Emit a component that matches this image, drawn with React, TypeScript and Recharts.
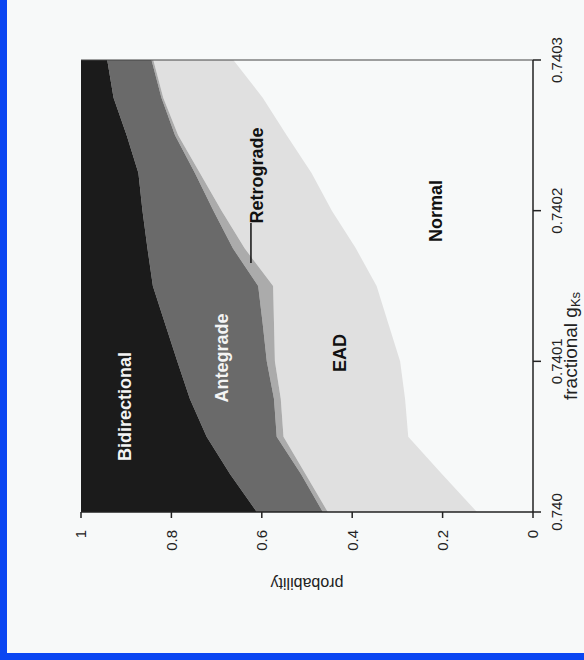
import { AreaChart, Area, XAxis, YAxis, ReferenceLine, ReferenceDot } from 'recharts';

// fractional gKs samples (x) and stacked probabilities for each behaviour
const gks = [0.74, 0.740025, 0.74005, 0.740075, 0.7401, 0.740125, 0.74015, 0.740175, 0.7402, 0.740225, 0.74025, 0.740275, 0.7403];
const normal = [0.124, 0.201, 0.276, 0.283, 0.294, 0.32, 0.346, 0.392, 0.445, 0.49, 0.545, 0.598, 0.663];
const ead = [0.33, 0.302, 0.276, 0.275, 0.277, 0.253, 0.229, 0.246, 0.244, 0.247, 0.24, 0.22, 0.177];
const retrograde = [0.011, 0.01, 0.015, 0.015, 0.018, 0.025, 0.033, 0.026, 0.018, 0.011, 0.007, 0.004, 0.004];
const antegrade = [0.146, 0.157, 0.155, 0.186, 0.198, 0.216, 0.233, 0.189, 0.157, 0.125, 0.107, 0.106, 0.098];
const bidirectional = [0.389, 0.33, 0.278, 0.241, 0.213, 0.186, 0.159, 0.147, 0.136, 0.127, 0.101, 0.072, 0.058];

const gTicks = [0.74, 0.7401, 0.7402, 0.7403];
const gTickLabels = ['0.740', '0.7401', '0.7402', '0.7403'];
const pTicks = [0, 0.2, 0.4, 0.6, 0.8, 1];
const pTickLabels = ['0', '0.2', '0.4', '0.6', '0.8', '1'];

const data = gks.map((g, i) => ({
  g,
  normal: normal[i],
  ead: ead[i],
  retrograde: retrograde[i],
  antegrade: antegrade[i],
  bidirectional: bidirectional[i],
}));

const ink = '#222';
const bg = '#f7f9f9';
const labelStyle = { fontSize: 18, fontWeight: 'bold' as const };

export default function App() {
  return (
    <div
      style={{
        position: 'fixed',
        left: 0,
        top: 0,
        width: 584,
        height: 660,
        boxSizing: 'border-box',
        borderLeft: '7px solid #0a46f2',
        borderBottom: '7px solid #0a46f2',
        background: bg,
        overflow: 'hidden',
      }}
    >
      {/* the figure is the plot turned a quarter turn counter-clockwise */}
      <div
        style={{
          position: 'absolute',
          left: -7,
          top: 0,
          width: 660,
          height: 584,
          transformOrigin: '0 0',
          transform: 'translate(0px, 660px) rotate(-90deg)',
        }}
      >
        <AreaChart
          width={660}
          height={584}
          data={data}
          margin={{ top: 81, right: 60, left: 0, bottom: 0 }}
          style={{ fontFamily: '"Liberation Sans", Arial, sans-serif' }}
        >
          <XAxis
            type="number"
            dataKey="g"
            domain={[0.74, 0.7403]}
            ticks={gTicks}
            interval={0}
            allowDataOverflow
            tickFormatter={(v, i) => gTickLabels[i]}
            tickSize={8}
            tickMargin={10}
            height={51}
            stroke={ink}
            axisLine={{ stroke: ink, strokeWidth: 1.5 }}
            tickLine={{ stroke: ink, strokeWidth: 1.5 }}
            tick={{ fill: ink, fontSize: 15 }}
            label={(props: any) => {
              const vb = props.viewBox;
              return (
                <text x={vb.x + 112} y={vb.y + 44} fill={ink} fontSize={19} textAnchor="start">
                  fractional g<tspan fontSize={13} dy={3}>Ks</tspan>
                </text>
              );
            }}
          />
          <YAxis
            type="number"
            domain={[0, 1]}
            ticks={pTicks}
            interval={0}
            tickFormatter={(v, i) => pTickLabels[i]}
            width={148}
            tickSize={6}
            tickMargin={12}
            stroke={ink}
            axisLine={{ stroke: ink, strokeWidth: 1.5 }}
            tickLine={{ stroke: ink, strokeWidth: 1.5 }}
            tick={{ fill: ink, fontSize: 15 }}
            label={(props: any) => {
              const vb = props.viewBox;
              const x = vb.x + 77;
              const y = vb.y + vb.height / 2;
              return (
                <text x={x} y={y} fill={ink} fontSize={16} textAnchor="middle" dominantBaseline="central" transform={`rotate(-90, ${x}, ${y})`}>
                  probability
                </text>
              );
            }}
          />
          <Area type="linear" dataKey="normal" stackId="1" stroke="none" fill={bg} fillOpacity={1} dot={false} activeDot={false} isAnimationActive={false} />
          <Area type="linear" dataKey="ead" stackId="1" stroke="none" fill="#e0e0e0" fillOpacity={1} dot={false} activeDot={false} isAnimationActive={false} />
          <Area type="linear" dataKey="retrograde" stackId="1" stroke="none" fill="#ababab" fillOpacity={1} dot={false} activeDot={false} isAnimationActive={false} />
          <Area type="linear" dataKey="antegrade" stackId="1" stroke="none" fill="#6a6a6a" fillOpacity={1} dot={false} activeDot={false} isAnimationActive={false} />
          <Area type="linear" dataKey="bidirectional" stackId="1" stroke="none" fill="#1b1b1b" fillOpacity={1} dot={false} activeDot={false} isAnimationActive={false} />
          <ReferenceLine x={0.7403} stroke="#444" strokeWidth={1.2} />
          <ReferenceLine
            segment={[{ x: 0.7401653, y: 0.624 }, { x: 0.7401918, y: 0.624 }]}
            stroke="#111"
            strokeWidth={1.5}
          />
          <ReferenceDot x={0.740070} y={0.903} r={1} fill="none" stroke="none" label={{ value: 'Bidirectional', position: 'center', fill: '#f4f4f4', ...labelStyle }} />
          <ReferenceDot x={0.7401022} y={0.689} r={1} fill="none" stroke="none" label={{ value: 'Antegrade', position: 'center', fill: '#f4f4f4', ...labelStyle }} />
          <ReferenceDot x={0.7402233} y={0.612} r={1} fill="none" stroke="none" label={{ value: 'Retrograde', position: 'center', fill: '#111', ...labelStyle }} />
          <ReferenceDot x={0.7401055} y={0.427} r={1} fill="none" stroke="none" label={{ value: 'EAD', position: 'center', fill: '#111', ...labelStyle }} />
          <ReferenceDot x={0.7401998} y={0.216} r={1} fill="none" stroke="none" label={{ value: 'Normal', position: 'center', fill: '#111', ...labelStyle }} />
        </AreaChart>
      </div>
    </div>
  );
}
